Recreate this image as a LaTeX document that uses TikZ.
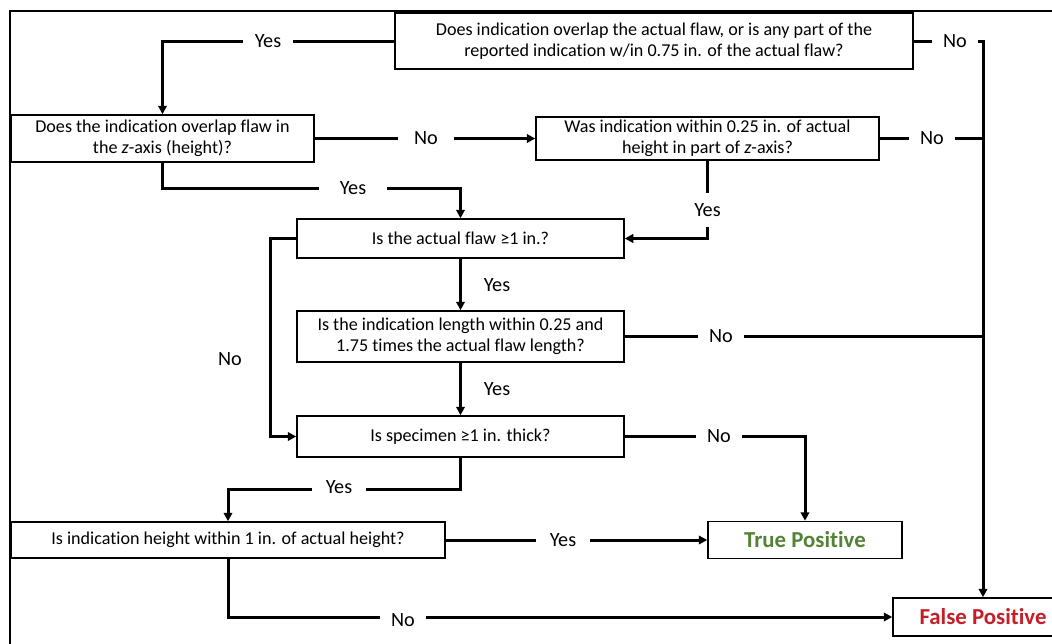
\documentclass[tikz,border=0pt]{standalone}
\usepackage{fontspec}
\setmainfont[Ligatures=NoCommon]{Carlito}
\usetikzlibrary{arrows.meta}
\definecolor{tpgreen}{RGB}{84,130,53}
\definecolor{fpred}{RGB}{196,30,40}
\tikzset{
  qbox/.style={draw, line width=0.3mm, align=center, inner sep=0pt, font=\fontsize{10.3}{12}\selectfont},
  endbox/.style={draw, line width=0.3mm, inner sep=0pt, font=\fontsize{13}{15}\selectfont\bfseries},
  conn/.style={line width=0.6mm},
  arr/.style={conn, -{Triangle[length=1.7mm,width=1.7mm]}},
  lbl/.style={fill=white, inner xsep=2.3mm, inner ysep=0.5mm, font=\fontsize{11.5}{13}\selectfont},
  txt/.style={inner sep=0pt, font=\fontsize{11.5}{13}\selectfont}
}

\begin{document}
\begin{tikzpicture}[x=0.2mm, y=-0.2mm]
			%%%%% START %%%%%
			\useasboundingbox (0, 0) rectangle (1052, 643);
			\clip (0, 0) rectangle (1052, 643);
			
			\draw[line width=0.4mm] (10, 11) rectangle (1075, 665);
			
			\node[qbox, minimum width=103.6mm, minimum height=11.2mm] (q1) at (654, 41) {Does indication overlap the actual flaw, or is any part of the\\reported indication w/in 0.75 in. of the actual flaw?};
			\node[qbox, minimum width=60.6mm, minimum height=9.4mm] (q2) at (162.5, 138.5) {Does the indication overlap flaw in\\the \textit{z}-axis (height)?};
			\node[qbox, minimum width=68.6mm, minimum height=8.6mm] (q3) at (707.5, 138.5) {Was indication within 0.25 in. of actual\\height in part of \textit{z}-axis?};
			\node[qbox, minimum width=65.4mm, minimum height=7.8mm] (q4) at (460.5, 238.5) {Is the actual flaw ≥1 in.?};
			\node[qbox, minimum width=65.4mm, minimum height=10.2mm] (q5) at (460.5, 336.5) {Is the indication length within 0.25 and\\1.75 times the actual flaw length?};
			\node[qbox, minimum width=65.4mm, minimum height=8.2mm] (q6) at (460.5, 436.5) {Is specimen ≥1 in. thick?};
			\node[qbox, minimum width=86.8mm, minimum height=7.2mm] (q7) at (228, 540) {Is indication height within 1 in. of actual height?};
			
			\node[endbox, minimum width=38.8mm, minimum height=7.4mm, text=tpgreen] (tp) at (805, 540) {True Positive};
			\node[endbox, minimum width=36mm, minimum height=7.6mm, text=fpred] (fp) at (983, 617) {False Positive};
			
			% connectors
			\draw[arr] (q1.west) -| (q2.north);
			\draw[arr] (q1.east) -| (fp.north);
			\draw[arr] (q2.east) -- (q3.west);
			\draw[conn] (q3.east) -- (q3.east -| fp.north);
			\draw[arr] (q3.south) |- (q4.east);
			\draw[arr] (q2.south) -- ++(0, 26) -| (q4.north);
			\draw[arr] (q4.west) -- ++(-26, 0) |- (q6.west);
			\draw[arr] (q4.south) -- (q5.north);
			\draw[conn] (q5.east) -- (q5.east -| fp.north);
			\draw[arr] (q5.south) -- (q6.north);
			\draw[arr] (q6.east) -| (tp.north);
			\draw[arr] (q6.south) -- ++(0, 32) -| (q7.north);
			\draw[arr] (q7.east) -- (tp.west);
			\draw[arr] (q7.south) |- (fp.west);
			
			% labels
			\node[lbl] (yes1) at (268, 41) {Yes};
			\node[lbl] (no1) at (955, 41) {No};
			\node[lbl, inner xsep=3.2mm] (no2) at (426, 138.5) {No};
			\node[lbl] (no3) at (932, 138.5) {No};
			\node[lbl, inner xsep=4.2mm] (yes2) at (353, 188.5) {Yes};
			\node[lbl, inner xsep=1mm, inner ysep=2mm] (yes3) at (707.5, 210) {Yes};
			\node[txt] (no4) at (230, 359) {No};
			\node[txt] (yes4) at (497, 285) {Yes};
			\node[lbl] (no5) at (721, 336.5) {No};
			\node[txt] (yes5) at (497, 389) {Yes};
			\node[lbl] (no6) at (719, 436.5) {No};
			\node[lbl, inner xsep=2.8mm] (yes6) at (339, 487) {Yes};
			\node[lbl, inner xsep=2.8mm] (yes7) at (563, 540) {Yes};
			\node[lbl] (no7) at (403, 620) {No};
			
			%%%%% END %%%%%
		\end{tikzpicture}
\end{document}
